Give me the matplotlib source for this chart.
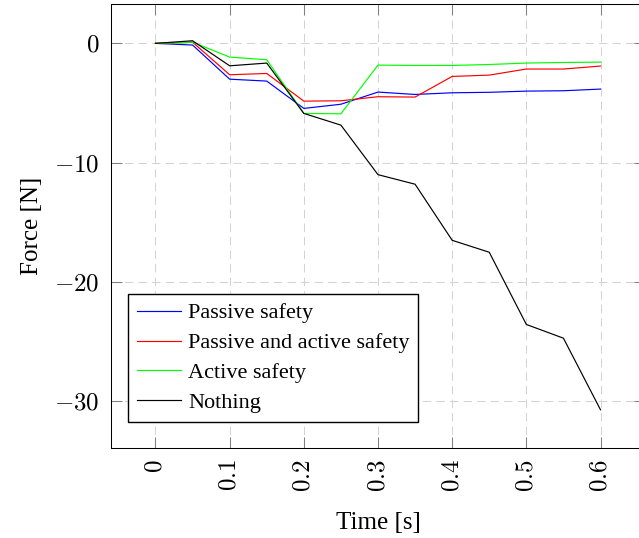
import matplotlib
matplotlib.use("Agg")
import matplotlib.pyplot as plt

plt.rcParams["font.family"] = ["Liberation Serif", "DejaVu Serif"]
plt.rcParams["mathtext.fontset"] = "cm"

time_s = [0.0, 0.05, 0.1, 0.15, 0.2, 0.25, 0.3, 0.35, 0.4, 0.45, 0.5, 0.55, 0.6]
passive = [0.0, -0.14, -3.0, -3.16, -5.45, -5.1, -4.08, -4.28, -4.14, -4.1, -4.0, -3.97, -3.83]
passive_active = [0.0, 0.1, -2.63, -2.52, -4.84, -4.81, -4.47, -4.5, -2.77, -2.66, -2.15, -2.15, -1.9]
active = [0.0, 0.1, -1.15, -1.37, -5.87, -5.9, -1.82, -1.85, -1.85, -1.77, -1.65, -1.6, -1.57]
nothing = [0.0, 0.22, -1.88, -1.65, -5.87, -6.85, -11.0, -11.8, -16.5, -17.5, -23.55, -24.7, -30.7]

x_ticks = [0, 0.1, 0.2, 0.3, 0.4, 0.5, 0.6]
x_ticklabels = ["$0$", "$0.1$", "$0.2$", "$0.3$", "$0.4$", "$0.5$", "$0.6$"]
y_ticks = [0, -10, -20, -30]
y_ticklabels = ["$0$", "$-10$", "$-20$", "$-30$"]

series = [
    ("Passive safety", passive, "#0000ff"),
    ("Passive and active safety", passive_active, "#ff0000"),
    ("Active safety", active, "#00ff00"),
    ("Nothing", nothing, "#000000"),
]

fig = plt.figure(figsize=(6.39, 5.38), dpi=100)
ax = fig.add_axes([0.1737, 0.1673, 0.8357, 0.8253])

for label, vals, color in series:
    ax.plot(time_s, vals, color=color, lw=0.85, label=label)

ax.set_xlim(-0.06, 0.66)
ax.set_ylim(-33.9, 3.3)
ax.set_xticks(x_ticks, x_ticklabels)
ax.set_yticks(y_ticks, y_ticklabels)

ax.grid(True, color="#d3d3d3", lw=0.75, linestyle=(0, (8, 5)))
ax.set_axisbelow(True)
ax.tick_params(direction="in", length=7.7, width=0.75, color="#808080",
               top=True, right=True, labelsize=18, pad=8)
ax.tick_params(axis="x", labelrotation=90)
for sp in ax.spines.values():
    sp.set_linewidth(0.75)

ax.set_xlabel("Time [s]", fontsize=18, labelpad=14)
ax.set_ylabel("Force [N]", fontsize=18, labelpad=8)

leg = ax.legend(loc="lower left", bbox_to_anchor=(0.032, 0.0586), borderaxespad=0,
                fontsize=16, fancybox=False, edgecolor="black", framealpha=1,
                handlelength=2.0, handletextpad=0.3, labelspacing=0.42, borderpad=0.4)
leg.get_frame().set_linewidth(1.0)

fig.savefig("out.png", dpi=100)
